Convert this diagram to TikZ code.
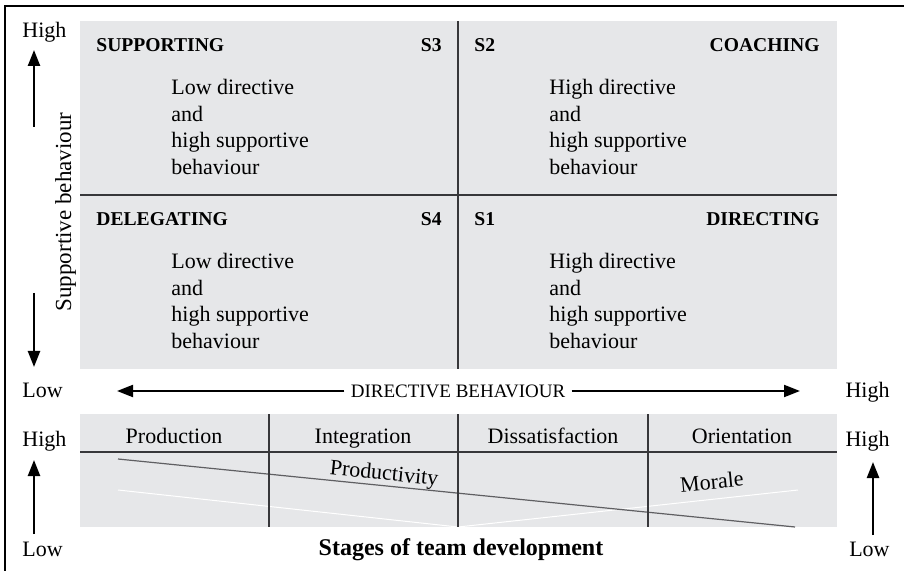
\documentclass[tikz,border=0pt]{standalone}
\usepackage{fontspec}
\setmainfont{Liberation Serif}
\usetikzlibrary{positioning,arrows.meta}

\definecolor{panelgrey}{RGB}{230,231,233}
\definecolor{rulegrey}{RGB}{55,55,58}
\definecolor{curvegrey}{RGB}{95,95,98}

\tikzset{
	quadhead/.style={font=\fontsize{9.8}{11}\selectfont\bfseries, inner sep=0pt},
	quadtext/.style={font=\fontsize{11}{13.25}\selectfont, align=left, anchor=north west, inner sep=0pt},
	plainlabel/.style={font=\fontsize{11}{13}\selectfont, inner sep=0pt, text height=7.5pt, text depth=2.4pt},
	divider/.style={draw=rulegrey, line width=0.8pt},
	bigarrow/.style={-{Triangle[length=8pt,width=6pt]}, line width=1.2pt},
}

\begin{document}
\begin{tikzpicture}[y=-0.5pt,x=0.5pt]
	\newcommand\QuadLow{Low directive\\and\\high supportive\\behaviour}
	\newcommand\QuadHigh{High directive\\and\\high supportive\\behaviour}

	\useasboundingbox (0,0) rectangle (904,571);
	\draw[line width=0.7pt] (5,571) -- (5,6) -- (904,6);

	\fill[panelgrey] (80,21) rectangle (837,369);
	\draw[divider] (458,21) -- (458,369);
	\draw[divider] (80,195) -- (837,195);

	\node[quadhead, anchor=west] (supporting) at (96,45) {SUPPORTING};
	\node[quadhead, anchor=east] (sthree) at (442,45) {S3};
	\node[quadhead, anchor=west] (stwo) at (474,45) {S2};
	\node[quadhead, anchor=east] (coaching) at (820,45) {COACHING};
	\node[quadhead, anchor=west] (delegating) at (96,219) {DELEGATING};
	\node[quadhead, anchor=east] (sfour) at (442,219) {S4};
	\node[quadhead, anchor=west] (sone) at (474,219) {S1};
	\node[quadhead, anchor=east] (directing) at (820,219) {DIRECTING};

	\node[quadtext] (supptext) at (171,79) {\QuadLow};
	\node[quadtext] (coachtext) at (549,79) {\QuadHigh};
	\node[quadtext] (delegtext) at (171,253) {\QuadLow};
	\node[quadtext] (directtext) at (549,253) {\QuadHigh};

	\node[plainlabel, anchor=west] (suphigh) at (22,32) {High};
	\node[plainlabel, anchor=west] (suplow) at (22,392) {Low};
	\node[plainlabel, rotate=90] (supaxis) at (66,212) {\fontsize{11.5}{13}\selectfont Supportive behaviour};
	\coordinate (supuptail) at (34,127);
	\coordinate (supuptip) at (34,50);
	\coordinate (supdowntail) at (34,293);
	\coordinate (supdowntip) at (34,367);
	\draw[bigarrow] (supuptail) -- (supuptip);
	\draw[bigarrow] (supdowntail) -- (supdowntip);

	\node[plainlabel, anchor=east] (dirhigh) at (890,392) {High};
	\node[font=\fontsize{9.5}{11}\selectfont, inner sep=3pt] (diraxis) at (458,391) {DIRECTIVE BEHAVIOUR};
	\coordinate (dirlefttip) at (117,391);
	\coordinate (dirrighttip) at (800,391);
	\draw[bigarrow, line width=1pt] (diraxis.west) -- (dirlefttip);
	\draw[bigarrow, line width=1pt] (diraxis.east) -- (dirrighttip);

	\fill[panelgrey] (80,414) rectangle (837,527);
	\draw[white, line width=0.5pt] (118,490) coordinate (moralestart) -- (458,527) coordinate (moralelow) -- (798,490) coordinate (moraleend);
	\draw[curvegrey, line width=0.6pt] (118,459) coordinate (prodstart) -- (795,527) coordinate (prodend);
	\draw[divider] (80,452) -- (837,452);
	\draw[divider] (269,414) -- (269,527);
	\draw[divider] (458,414) -- (458,527);
	\draw[divider] (648,414) -- (648,527);

	\node[plainlabel] (production) at (174,438) {Production};
	\node[plainlabel] (integration) at (363,438) {Integration};
	\node[plainlabel] (dissatisfaction) at (553,438) {Dissatisfaction};
	\node[plainlabel] (orientation) at (742,438) {Orientation};
	\node[plainlabel, rotate=-5.7] (productivity) at (384,475) {Productivity};
	\node[plainlabel, rotate=5.5] (morale) at (712,484) {Morale};

	\node[plainlabel, anchor=west] (teamhighl) at (22,441) {High};
	\node[plainlabel, anchor=west] (teamlowl) at (22,551) {Low};
	\node[plainlabel, anchor=east] (teamhighr) at (890,441) {High};
	\node[plainlabel, anchor=east] (teamlowr) at (890,551) {Low};
	\coordinate (teamltail) at (34,534);
	\coordinate (teamltip) at (34,460);
	\coordinate (teamrtail) at (873,535);
	\coordinate (teamrtip) at (873,462);
	\draw[bigarrow] (teamltail) -- (teamltip);
	\draw[bigarrow] (teamrtail) -- (teamrtip);

	\node[font=\fontsize{12}{14}\selectfont\bfseries, inner sep=0pt] (stages) at (461,550) {Stages of team development};
\end{tikzpicture}
\end{document}
